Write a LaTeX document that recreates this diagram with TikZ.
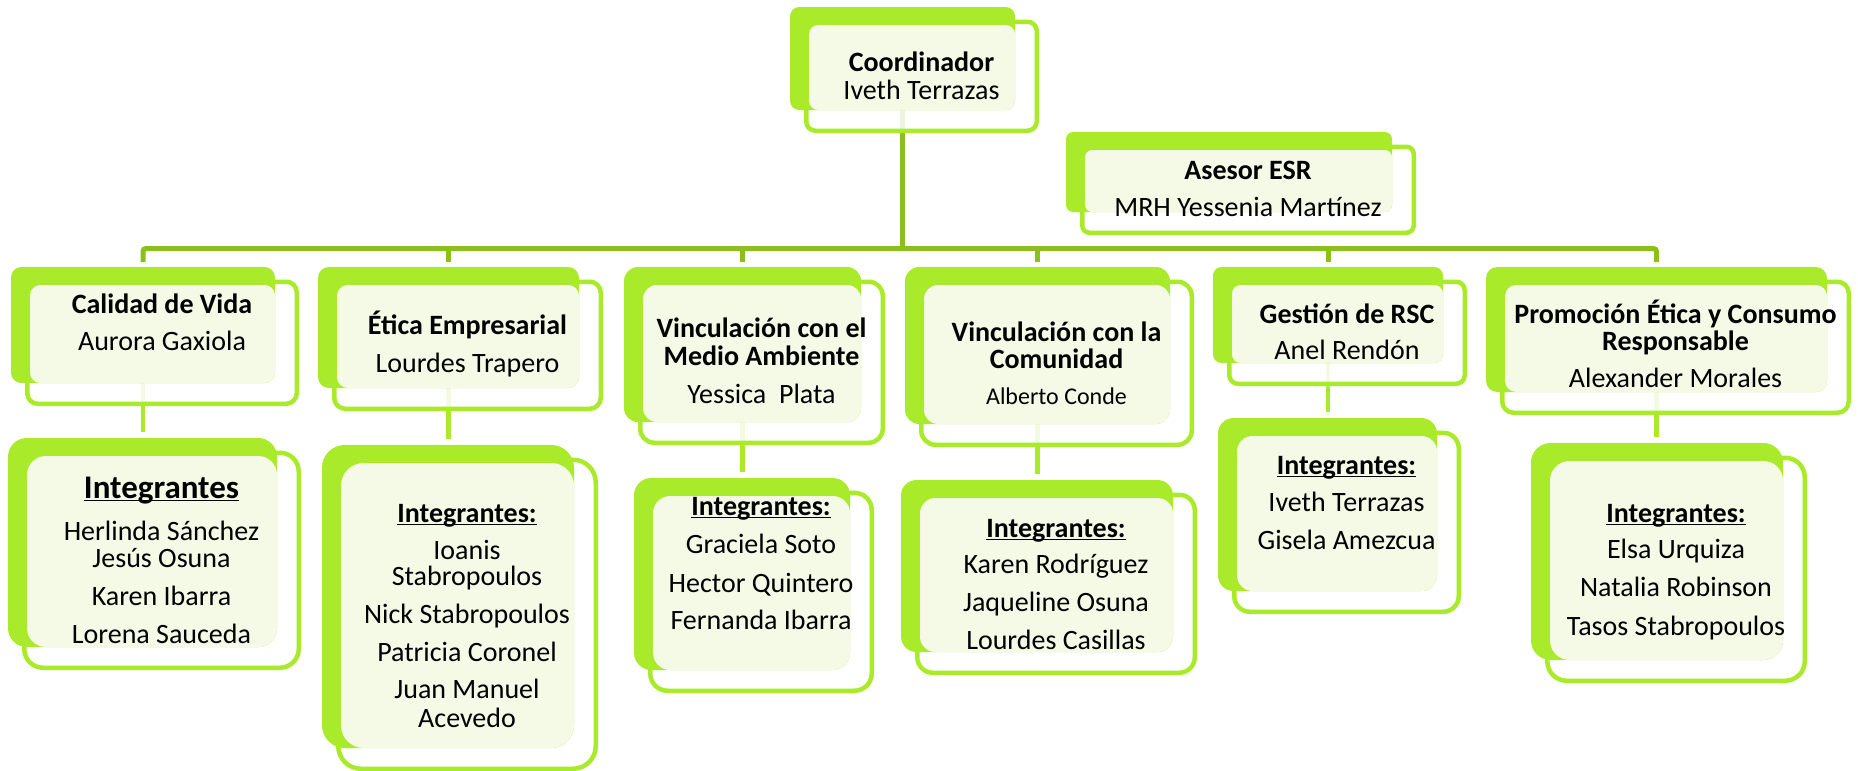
\documentclass[tikz,border=0pt]{standalone}
\usepackage{fontspec}
\setmainfont{Carlito}
\usetikzlibrary{calc,backgrounds}
\definecolor{boxgreen}{HTML}{A9EA2A}
\definecolor{busgreen}{HTML}{8BBF1D}
\definecolor{lightfill}{HTML}{F4FAE6}
\newcommand\ulin[1]{\setbox0\hbox{#1}\rlap{\rule[-1.6pt]{\wd0}{0.6pt}}\box0}
\tikzset{
  boxa/.style={fill=boxgreen, inner sep=0pt, outer sep=0pt},
  boxb/.style={draw=boxgreen, line width=2.25pt, fill=white, fill opacity=0.85, inner sep=0pt, outer sep=0pt},
  boxc/.style={fill=lightfill, inner sep=0pt, outer sep=0pt},
  tx/.style={anchor=base, inner sep=0pt, font=\fontsize{14pt}{16pt}\selectfont},
  hd/.style={anchor=base, inner sep=0pt, font=\fontsize{14pt}{16pt}\selectfont\bfseries},
  hdbig/.style={anchor=base, inner sep=0pt, font=\fontsize{16.5pt}{18pt}\selectfont\bfseries},
  sm/.style={anchor=base, inner sep=0pt, font=\fontsize{12pt}{14pt}\selectfont},
  busline/.style={draw=busgreen, line width=2.5pt},
  conn/.style={draw=boxgreen, line width=2.25pt, shorten >=3pt},
}
\newcommand\obox[5]{%
  \pgfmathsetmacro\wA{(#4-#2)*0.5}%
  \pgfmathsetmacro\hA{(#5-#3)*0.5}%
  \pgfmathsetmacro\rA{0.09*min(\wA,\hA)}%
  \pgfmathsetmacro\wB{(#4-#2+5.5)*0.5}%
  \pgfmathsetmacro\hB{(#5-#3+6)*0.5}%
  \pgfmathsetmacro\wC{(#4-#2-19)*0.5}%
  \pgfmathsetmacro\hC{(#5-#3-18)*0.5}%
  \node[boxb, rounded corners=\rA pt, minimum width=\wB pt, minimum height=\hB pt] (#1) at ({(#2+#4)/2+19},{(#3+#5)/2+17.75}) {};
  \node[boxa, rounded corners=\rA pt, minimum width=\wA pt, minimum height=\hA pt] (#1-a) at ({(#2+#4)/2},{(#3+#5)/2}) {};
  \node[boxc, rounded corners=\rA pt, minimum width=\wC pt, minimum height=\hC pt] (#1-c) at ({(#2+#4+19)/2},{(#3+#5+18)/2}) {};
}
\newcommand\tline[5]{\node[#1] (#2) at (#3,#4) {#5};}
\begin{document}
\begin{tikzpicture}[x=0.5pt, y=-0.5pt]
\useasboundingbox (0,0) rectangle (1858,771);
% boxes
\obox{coord}{790}{7}{1015}{110}
\obox{ases}{1066}{132}{1392}{212}
\obox{cal}{11}{267}{275}{383}
\obox{eti}{318}{267}{579}{388}
\obox{med}{624}{267}{861}{422}
\obox{com}{905}{267}{1170}{424}
\obox{ges}{1213}{267}{1443}{363}
\obox{pro}{1486}{267}{1827}{392}
\obox{calint}{8}{438}{277}{647}
\obox{etiint}{322}{445}{574}{748}
\obox{medint}{634}{478}{850}{670}
\obox{comint}{901}{480}{1173}{652}
\obox{gesint}{1218}{418}{1437}{591}
\obox{proint}{1531}{443}{1783}{660}
% connectors
\coordinate (bus) at (0,248.5);
\begin{pgfonlayer}{background}
\draw[busline] (coord-a.south) -- (coord-a.south |- bus);
\draw[busline, rounded corners=1.5pt] ([yshift=2.5pt]cal-a.north) |- (bus -| pro-a.north) -- ([yshift=2.5pt]pro-a.north);
\draw[busline] (bus -| eti-a.north) -- ([yshift=2.5pt]eti-a.north);
\draw[busline] (bus -| med-a.north) -- ([yshift=2.5pt]med-a.north);
\draw[busline] (bus -| com-a.north) -- ([yshift=2.5pt]com-a.north);
\draw[busline] (bus -| ges-a.north) -- ([yshift=2.5pt]ges-a.north);
\draw[conn] (cal-a.south) -- (cal-a.south |- calint-a.north);
\draw[conn] (eti-a.south) -- (eti-a.south |- etiint-a.north);
\draw[conn] (med-a.south) -- (med-a.south |- medint-a.north);
\draw[conn] (com-a.south) -- (com-a.south |- comint-a.north);
\draw[conn] (ges-a.south) -- (ges-a.south |- gesint-a.north);
\draw[conn] (pro-a.south) -- (pro-a.south |- proint-a.north);
\end{pgfonlayer}
% texts
\tline{hd}{t-coord1}{921.5}{71}{Coordinador}
\tline{tx}{t-coord2}{921.5}{99}{Iveth Terrazas}
\tline{hd}{t-ases1}{1248}{179}{Asesor ESR}
\tline{tx}{t-ases2}{1248}{216}{MRH Yessenia Martínez}
\tline{hd}{t-cal1}{162}{313}{Calidad de Vida}
\tline{tx}{t-cal2}{162}{350}{Aurora Gaxiola}
\tline{hd}{t-eti1}{467.5}{334}{Ética Empresarial}
\tline{tx}{t-eti2}{467.5}{372}{Lourdes Trapero}
\tline{hd}{t-med1}{761.5}{337}{Vinculación con el}
\tline{hd}{t-med2}{761.5}{365}{Medio Ambiente}
\tline{tx}{t-med3}{761.5}{403}{Yessica~~Plata}
\tline{hd}{t-com1}{1056.5}{341}{Vinculación con la}
\tline{hd}{t-com2}{1056.5}{368}{Comunidad}
\tline{sm}{t-com3}{1056.5}{404}{Alberto Conde}
\tline{hd}{t-ges1}{1347}{323}{Gestión de RSC}
\tline{tx}{t-ges2}{1347}{359}{Anel Rendón}
\tline{hd}{t-pro1}{1675.5}{323}{Promoción Ética y Consumo}
\tline{hd}{t-pro2}{1675.5}{350}{Responsable}
\tline{tx}{t-pro3}{1675.5}{387}{Alexander Morales}
% integrantes
\tline{hdbig}{t-ci0}{161.5}{498}{\ulin{Integrantes}}
\tline{tx}{t-ci1}{161.5}{540}{Herlinda Sánchez}
\tline{tx}{t-ci2}{161.5}{567}{Jesús Osuna}
\tline{tx}{t-ci3}{161.5}{605}{Karen Ibarra}
\tline{tx}{t-ci4}{161.5}{643}{Lorena Sauceda}
\tline{hd}{t-ei0}{467}{522}{\ulin{Integrantes:}}
\tline{tx}{t-ei1}{467}{559}{Ioanis}
\tline{tx}{t-ei2}{467}{585}{Stabropoulos}
\tline{tx}{t-ei3}{467}{623}{Nick Stabropoulos}
\tline{tx}{t-ei4}{467}{661}{Patricia Coronel}
\tline{tx}{t-ei5}{467}{698}{Juan Manuel}
\tline{tx}{t-ei6}{467}{727}{Acevedo}
\tline{hd}{t-mi0}{761}{515}{\ulin{Integrantes:}}
\tline{tx}{t-mi1}{761}{553}{Graciela Soto}
\tline{tx}{t-mi2}{761}{592}{Hector Quintero}
\tline{tx}{t-mi3}{761}{629}{Fernanda Ibarra}
\tline{hd}{t-oi0}{1056}{537}{\ulin{Integrantes:}}
\tline{tx}{t-oi1}{1056}{573}{Karen Rodríguez}
\tline{tx}{t-oi2}{1056}{611}{Jaqueline Osuna}
\tline{tx}{t-oi3}{1056}{649}{Lourdes Casillas}
\tline{hd}{t-gi0}{1346.5}{474}{\ulin{Integrantes:}}
\tline{tx}{t-gi1}{1346.5}{511}{Iveth Terrazas}
\tline{tx}{t-gi2}{1346.5}{549}{Gisela Amezcua}
\tline{hd}{t-pi0}{1676}{522}{\ulin{Integrantes:}}
\tline{tx}{t-pi1}{1676}{558}{Elsa Urquiza}
\tline{tx}{t-pi2}{1676}{596}{Natalia Robinson}
\tline{tx}{t-pi3}{1676}{635}{Tasos Stabropoulos}
\end{tikzpicture}
\end{document}
